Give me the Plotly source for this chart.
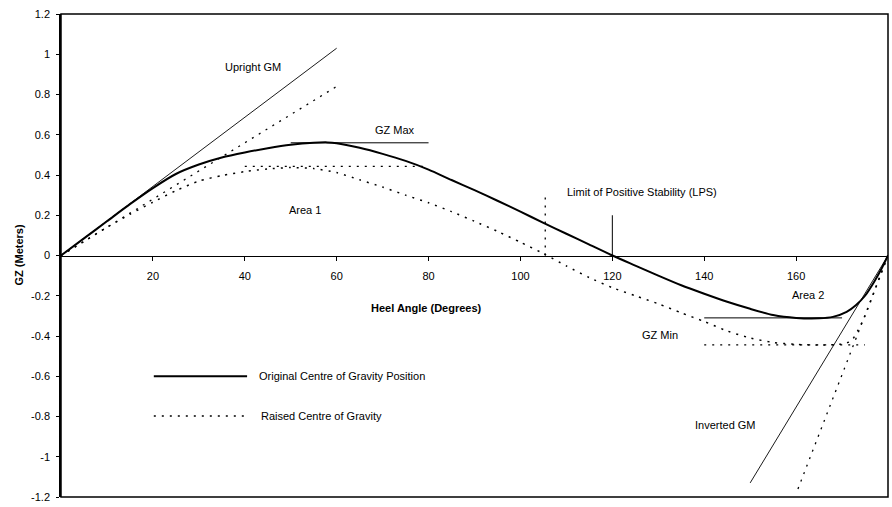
import plotly.graph_objects as go

# Righting-lever (GZ) curves, heel angle in degrees vs GZ in metres
angle_orig = [0, 5, 10, 15, 20, 25, 30, 35, 40, 45, 50, 55, 58, 60, 65, 70, 75, 80, 85, 90,
              95, 100, 105, 110, 115, 120, 125, 130, 135, 140, 145, 150, 155, 160, 165,
              168, 171, 173, 175, 177, 178.5, 180]
gz_orig = [0, 0.085, 0.17, 0.255, 0.335, 0.405, 0.452, 0.487, 0.512, 0.533, 0.55, 0.56, 0.562,
           0.558, 0.535, 0.505, 0.47, 0.427, 0.375, 0.325, 0.272, 0.218, 0.162, 0.108, 0.054,
           0.0, -0.05, -0.10, -0.148, -0.19, -0.23, -0.265, -0.296, -0.31, -0.312, -0.305,
           -0.28, -0.247, -0.2, -0.13, -0.07, 0.0]

angle_raised = [0, 5, 10, 15, 20, 25, 30, 35, 40, 45, 50, 55, 60, 65, 70, 75, 80, 85, 90, 95,
                100, 105, 110, 115, 120, 125, 130, 135, 140, 145, 150, 155, 160, 165, 170,
                172, 173.5, 175, 177, 178.5, 180]
gz_raised = [0, 0.07, 0.14, 0.205, 0.265, 0.322, 0.37, 0.397, 0.417, 0.43, 0.437, 0.432,
             0.412, 0.376, 0.34, 0.30, 0.262, 0.218, 0.17, 0.12, 0.066, 0.01, -0.052, -0.11,
             -0.16, -0.2, -0.24, -0.285, -0.328, -0.375, -0.41, -0.432, -0.442, -0.445, -0.44,
             -0.425, -0.37, -0.30, -0.18, -0.09, 0.0]

# Construction lines: tangents (GM), maxima, minima, limits of positive stability
upright_gm_x, upright_gm_y = [0, 60], [0, 1.03]
upright_gm_raised_x, upright_gm_raised_y = [0, 60], [0, 0.84]
inverted_gm_x, inverted_gm_y = [150, 180], [-1.13, 0]
inverted_gm_raised_x, inverted_gm_raised_y = [160.4, 180], [-1.16, 0]
gz_max_x, gz_max_y = [50, 80], [0.56, 0.56]
gz_max_raised_x, gz_max_raised_y = [40, 80], [0.443, 0.443]
gz_min_x, gz_min_y = [140, 170], [-0.31, -0.31]
gz_min_raised_x, gz_min_raised_y = [140, 175], [-0.444, -0.444]
lps_x, lps_y = [120, 120], [0, 0.2]
lps_raised_x, lps_raised_y = [105.4, 105.4], [0, 0.295]

x_ticks = [20, 40, 60, 80, 100, 120, 140, 160]
y_ticks = [1.2, 1, 0.8, 0.6, 0.4, 0.2, 0, -0.2, -0.4, -0.6, -0.8, -1, -1.2]
y_tick_text = ["1.2", "1", "0.8", "0.6", "0.4", "0.2", "0", "-0.2", "-0.4", "-0.6",
               "-0.8", "-1", "-1.2"]

FONT = "Liberation Sans, Arial, sans-serif"
DOT = "2px,6px"

fig = go.Figure()


def line(x, y, width=1.0, dash="solid", shape="linear"):
    fig.add_trace(go.Scatter(x=x, y=y, mode="lines", showlegend=False, hoverinfo="skip",
                             line=dict(color="black", width=width, dash=dash, shape=shape,
                                       smoothing=0.6)))


line(upright_gm_x, upright_gm_y, 0.9)
line(upright_gm_raised_x, upright_gm_raised_y, 1.3, DOT)
line(inverted_gm_x, inverted_gm_y, 0.9)
line(inverted_gm_raised_x, inverted_gm_raised_y, 1.3, DOT)
line(gz_max_x, gz_max_y, 1.0)
line(gz_max_raised_x, gz_max_raised_y, 1.3, DOT)
line(gz_min_x, gz_min_y, 1.0)
line(gz_min_raised_x, gz_min_raised_y, 1.3, DOT)
line(lps_x, lps_y, 1.0)
line(lps_raised_x, lps_raised_y, 1.3, DOT)
line(angle_raised, gz_raised, 1.5, DOT, "spline")
line(angle_orig, gz_orig, 2.0, "solid", "spline")

# Legend drawn as sample lines with labels
legend_x = [20.2, 40.5]
line(legend_x, [-0.6, -0.6], 2.0)
line(legend_x, [-0.797, -0.797], 1.5, DOT)

labels = [
    ("Upright GM", 35.3, 0.935),
    ("GZ Max", 67.9, 0.625),
    ("Area 1", 49.2, 0.226),
    ("Limit of Positive Stability (LPS)", 109.7, 0.315),
    ("Area 2", 158.7, -0.197),
    ("GZ Min", 126.0, -0.393),
    ("Inverted GM", 137.6, -0.841),
    ("Original Centre of Gravity Position", 42.6, -0.6),
    ("Raised Centre of Gravity", 43.0, -0.797),
]
for text, x, y in labels:
    fig.add_annotation(x=x, y=y, text=text, showarrow=False, xanchor="left",
                       yanchor="middle", font=dict(family=FONT, size=11, color="black"))

fig.add_annotation(x=79.6, y=-0.263, text="<b>Heel Angle (Degrees)</b>", showarrow=False,
                   xanchor="center", yanchor="middle",
                   font=dict(family=FONT, size=11, color="black"))
fig.add_annotation(xref="paper", yref="paper", x=-43 / 827, y=0.5, text="<b>GZ (Meters)</b>",
                   textangle=-90, showarrow=False, xanchor="center", yanchor="middle",
                   font=dict(family=FONT, size=11, color="black"))

# Outer frame
fig.add_shape(type="rect", xref="paper", yref="paper", x0=0, y0=0, x1=1, y1=1,
              line=dict(color="black", width=1.5))

fig.update_layout(
    width=892, height=507,
    margin=dict(l=61, r=4, t=14, b=7),
    paper_bgcolor="white", plot_bgcolor="white",
    font=dict(family=FONT, size=11, color="black"),
    showlegend=False,
    xaxis=dict(range=[0, 180], tickvals=x_ticks, showgrid=False, zeroline=False,
               showline=True, linecolor="black", linewidth=1.2, ticks="outside",
               ticklen=4, tickcolor="black", anchor="free", position=0.5,
               ticklabelstandoff=6, tickfont=dict(family=FONT, size=11)),
    yaxis=dict(range=[-1.2, 1.2], tickvals=y_ticks, ticktext=y_tick_text, showgrid=False,
               zeroline=False, showline=True, linecolor="black", linewidth=1.5,
               ticks="outside", ticklen=3, tickcolor="black", ticklabelstandoff=4,
               tickfont=dict(family=FONT, size=11)),
)

fig.write_html("out.html")
